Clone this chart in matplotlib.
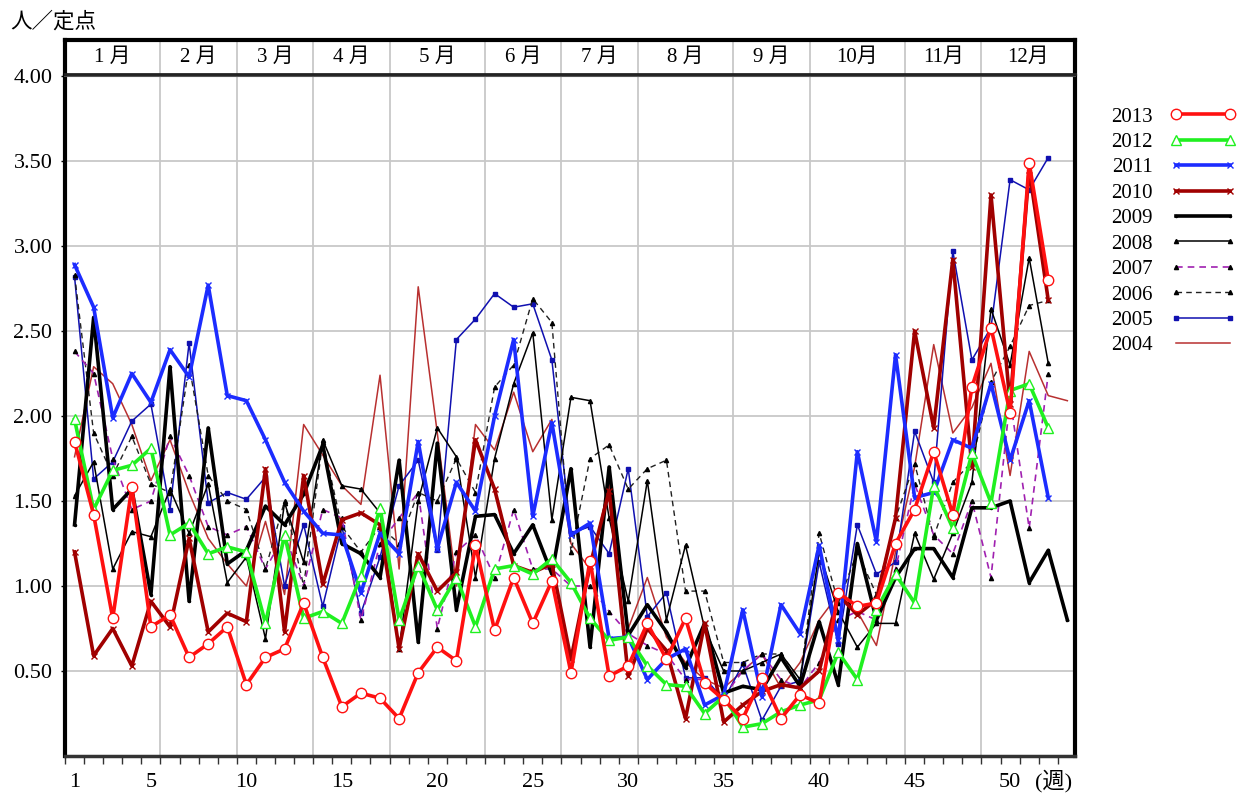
import matplotlib
matplotlib.use('Agg')
import matplotlib.pyplot as plt

plt.rcParams['font.family'] = ['Liberation Serif', 'Noto Sans CJK JP']

# weekly values (people per sentinel site)
y2013 = [1.85, 1.42, 0.81, 1.58, 0.76, 0.83, 0.58, 0.66, 0.76, 0.42, 0.58, 0.63, 0.90, 0.58, 0.29, 0.37, 0.34, 0.22,
         0.49, 0.64, 0.56, 1.24, 0.74, 1.05, 0.78, 1.03, 0.49, 1.15, 0.47, 0.53, 0.78, 0.57, 0.81, 0.43, 0.33, 0.22,
         0.46, 0.22, 0.36, 0.31, 0.96, 0.88, 0.90, 1.25, 1.45, 1.79, 1.42, 2.17, 2.52, 2.02, 3.49, 2.80]
y2012 = [1.98, 1.45, 1.68, 1.71, 1.81, 1.30, 1.37, 1.19, 1.23, 1.20, 0.78, 1.30, 0.81, 0.85, 0.78, 1.06, 1.46, 0.80,
         1.12, 0.86, 1.05, 0.76, 1.10, 1.12, 1.07, 1.16, 1.02, 0.81, 0.68, 0.70, 0.53, 0.42, 0.41, 0.25, 0.35, 0.17,
         0.19, 0.26, 0.30, 0.33, 0.61, 0.45, 0.86, 1.07, 0.90, 1.59, 1.34, 1.78, 1.49, 2.15, 2.19, 1.93]
y2011 = [2.89, 2.64, 1.99, 2.25, 2.08, 2.39, 2.23, 2.77, 2.12, 2.09, 1.86, 1.61, 1.44, 1.31, 1.30, 0.96, 1.31, 1.19,
         1.85, 1.22, 1.61, 1.44, 2.00, 2.45, 1.41, 1.96, 1.30, 1.37, 0.69, 0.70, 0.45, 0.57, 0.63, 0.30, 0.36, 0.86,
         0.35, 0.89, 0.72, 1.24, 0.68, 1.79, 1.26, 2.36, 1.52, 1.55, 1.86, 1.81, 2.19, 1.74, 2.09, 1.52]
y2010 = [1.20, 0.59, 0.75, 0.53, 0.91, 0.76, 1.28, 0.73, 0.84, 0.79, 1.69, 0.73, 1.65, 1.01, 1.39, 1.43, 1.36, 0.63,
         1.19, 0.97, 1.08, 1.86, 1.57, 1.12, 1.08, 1.13, 0.57, 1.12, 1.56, 0.47, 0.75, 0.62, 0.22, 0.78, 0.20, 0.30,
         0.38, 0.42, 0.40, 0.50, 0.95, 0.83, 0.92, 1.40, 2.50, 1.93, 2.92, 1.70, 3.30, 2.07, 3.45, 2.68]
y2009 = [1.36, 2.58, 1.45, 1.57, 0.95, 2.29, 0.91, 1.93, 1.13, 1.21, 1.47, 1.36, 1.54, 1.83, 1.25, 1.19, 1.05, 1.74,
         0.67, 1.84, 0.86, 1.41, 1.42, 1.19, 1.36, 1.07, 1.69, 0.64, 1.70, 0.71, 0.89, 0.73, 0.52, 0.78, 0.37, 0.41,
         0.39, 0.58, 0.41, 0.79, 0.42, 1.25, 0.80, 1.05, 1.22, 1.22, 1.05, 1.46, 1.46, 1.50, 1.02, 1.21, 0.80]
y2008 = [1.53, 1.73, 1.10, 1.32, 1.29, 1.57, 1.31, 1.60, 1.02, 1.17, 0.69, 1.49, 1.14, 1.86, 1.59, 1.57, 1.43, 0.63,
         1.50, 1.93, 1.76, 1.05, 1.75, 2.19, 2.49, 1.39, 2.11, 2.09, 1.40, 0.91, 1.62, 0.80, 1.24, 0.75, 0.50, 0.50,
         0.55, 0.60, 0.45, 1.20, 0.85, 0.64, 0.78, 0.78, 1.31, 1.04, 1.31, 1.61, 2.63, 2.30, 2.93, 2.31]
y2007 = [2.38, 2.25, 1.75, 1.45, 1.50, 1.88, 1.65, 1.35, 1.30, 1.35, 1.10, 1.30, 1.00, 1.45, 1.40, 0.80, 1.25, 1.40,
         1.55, 0.75, 1.20, 1.30, 1.05, 1.45, 1.10, 1.10, 1.00, 1.00, 0.85, 0.72, 0.65, 0.60, 0.45, 0.45, 0.35, 0.50,
         0.60, 0.45, 0.40, 0.55, 0.80, 0.85, 0.80, 1.10, 1.60, 1.30, 1.19, 1.50, 1.05, 2.10, 1.34, 2.25]
y2006 = [2.83, 1.90, 1.65, 1.88, 1.60, 1.55, 2.30, 1.65, 1.50, 1.45, 1.10, 1.50, 1.00, 1.85, 1.35, 1.20, 1.35, 1.25,
         1.55, 1.50, 1.75, 1.55, 2.17, 2.30, 2.69, 2.55, 1.20, 1.75, 1.83, 1.57, 1.69, 1.74, 0.97, 0.97, 0.55, 0.55,
         0.60, 0.60, 0.45, 1.31, 0.90, 1.20, 0.95, 1.40, 1.72, 1.29, 1.61, 1.73, 2.20, 2.41, 2.65, 2.68]
y2005 = [2.82, 1.63, 1.73, 1.97, 2.07, 1.45, 2.43, 1.49, 1.55, 1.51, 1.64, 1.00, 1.36, 0.88, 1.35, 0.84, 1.17, 1.59,
         1.74, 1.21, 2.45, 2.57, 2.72, 2.64, 2.66, 2.33, 1.31, 1.35, 1.19, 1.69, 0.82, 0.96, 0.46, 0.46, 0.33, 0.54,
         0.21, 0.41, 0.44, 1.14, 0.66, 1.36, 1.07, 1.14, 1.91, 1.61, 2.97, 2.33, 2.52, 3.39, 3.33, 3.52]
y2004 = [1.76, 2.29, 2.19, 1.95, 1.62, 1.86, 1.55, 1.28, 1.13, 1.00, 1.38, 0.95, 1.95, 1.77, 1.59, 1.48, 2.24, 1.10,
         2.76, 1.90, 1.00, 1.95, 1.80, 2.14, 1.79, 1.98, 1.25, 1.10, 1.60, 0.75, 1.05, 0.70, 0.55, 0.45, 0.40, 0.50,
         0.60, 0.40, 0.55, 0.80, 0.95, 0.85, 0.65, 1.20, 1.70, 2.42, 1.90, 2.05, 2.31, 1.65, 2.38, 2.12, 2.09]

years = ['2013', '2012', '2011', '2010', '2009', '2008', '2007', '2006', '2005', '2004']
values = [y2013, y2012, y2011, y2010, y2009, y2008, y2007, y2006, y2005, y2004]

month_labels = ['1 月', '2 月', '3 月', '4 月', '5 月', '6 月', '7 月', '8 月', '9 月', '10月', '11月', '12月']
month_edges = [0.5, 5.5, 9.5, 13.5, 17.5, 22.5, 26.5, 30.5, 35.5, 39.5, 44.5, 48.5, 53.4]
week_ticks = [1, 5, 10, 15, 20, 25, 30, 35, 40, 45, 50]
y_ticks = [0.5, 1.0, 1.5, 2.0, 2.5, 3.0, 3.5, 4.0]

# line style per year
styles = {
    '2013': dict(color='#ff1010', lw=2.6, ls='-', marker='o', ms=7.5, mfc='white', mec='#ff1010'),
    '2012': dict(color='#20f020', lw=2.6, ls='-', marker='^', ms=7.5, mfc='white', mec='#20f020'),
    '2011': dict(color='#1c2cff', lw=2.6, ls='-', marker='x', ms=4, mfc='#1c2cff', mec='#1c2cff'),
    '2010': dict(color='#a00000', lw=2.6, ls='-', marker='x', ms=4, mfc='#a00000', mec='#a00000'),
    '2009': dict(color='black', lw=2.6, ls='-', marker='.', ms=3, mfc='black', mec='black'),
    '2008': dict(color='black', lw=1.1, ls='-', marker='^', ms=3, mfc='black', mec='black'),
    '2007': dict(color='#a020b0', lw=1.2, ls=(0, (4, 3)), marker='^', ms=3, mfc='black', mec='black'),
    '2006': dict(color='#202020', lw=1.0, ls=(0, (4, 3)), marker='^', ms=3, mfc='black', mec='black'),
    '2005': dict(color='#1010b0', lw=1.1, ls='-', marker='s', ms=3, mfc='#1010b0', mec='#1010b0'),
    '2004': dict(color='#b83030', lw=1.1, ls='-', marker='', ms=0, mfc='none', mec='none'),
}

W, H = 1242, 794
fig = plt.figure(figsize=(W / 100, H / 100), dpi=100)

left, right = 65, 1075
ax = fig.add_axes([left / W, (H - 756) / H, (right - left) / W, (756 - 76) / H])
hax = fig.add_axes([left / W, (H - 74) / H, (right - left) / W, (74 - 40) / H])

lines = {}
for yr, vals in reversed(list(zip(years, values))):
    st = styles[yr]
    wk = list(range(1, len(vals) + 1))
    ln, = ax.plot(wk, vals, color=st['color'], lw=st['lw'], ls=st['ls'], marker=st['marker'] or None,
                  ms=st['ms'], mfc=st['mfc'], mec=st['mec'], mew=1.0, label=yr, zorder=3)
    lines[yr] = ln

ax.set_xlim(0.5, 53.4)
ax.set_ylim(0, 4.0)

ax.set_yticks(y_ticks)
ax.set_yticklabels(['%.2f' % v for v in y_ticks], fontsize=16)
ax.tick_params(axis='y', length=3, width=1, pad=6)
for v in y_ticks[:-1]:
    ax.axhline(v, color='#c8c8c8', lw=1.3, zorder=1)
for e in month_edges[1:-1]:
    ax.axvline(e, color='#c8c8c8', lw=1.3, zorder=1)

ax.set_xticks(week_ticks)
ax.set_xticklabels([str(w) for w in week_ticks], fontsize=16)
ax.set_xticks([w + 0.5 for w in range(0, 53)], minor=True)
ax.tick_params(axis='x', which='major', length=0, pad=12)
ax.tick_params(axis='x', which='minor', length=6, width=1, color='#333333')
ax.text(52.3, -0.037, '(週)', transform=ax.get_xaxis_transform(), ha='center', va='center', fontsize=16)

for side in ['left', 'right']:
    ax.spines[side].set_linewidth(3)
    ax.spines[side].set_color('black')
ax.spines['top'].set_linewidth(1.5)
ax.spines['top'].set_color('#555555')
ax.spines['bottom'].set_linewidth(2.5)
ax.spines['bottom'].set_color('#333333')

# month header strip
hax.set_xlim(ax.get_xlim())
hax.set_ylim(0, 1)
hax.set_xticks([])
hax.set_yticks([])
for e in month_edges[1:-1]:
    hax.axvline(e, color='#c8c8c8', lw=1.3)
for i, lab in enumerate(month_labels):
    hax.text((month_edges[i] + month_edges[i + 1]) / 2, 0.48, lab, ha='center', va='center', fontsize=15)
for side in ['left', 'right', 'top']:
    hax.spines[side].set_linewidth(3)
    hax.spines[side].set_color('black')
hax.spines['bottom'].set_linewidth(2)
hax.spines['bottom'].set_color('#222222')

fig.text(10 / W, 1 - 22 / H, '人／定点', fontsize=15.5, ha='left', va='center', family=['Noto Sans CJK JP'])

fig.legend([lines[y] for y in years], years, loc='upper left', bbox_to_anchor=(1111 / W, 1 - 107 / H),
           frameon=False, markerfirst=False, handlelength=3.2, handletextpad=0.8, labelspacing=0.28,
           fontsize=15, borderpad=0, borderaxespad=0, numpoints=2)

fig.savefig('out.png', dpi=100)
